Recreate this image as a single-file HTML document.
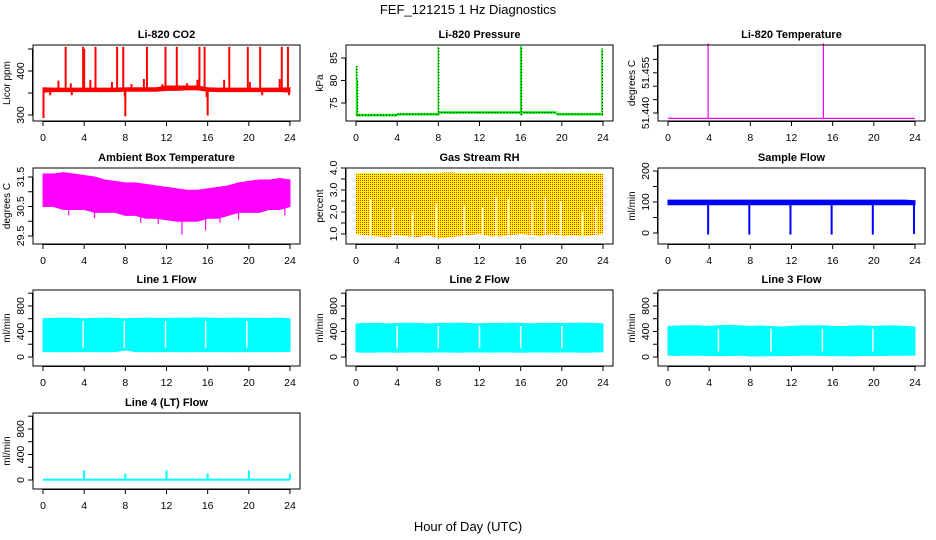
<!DOCTYPE html>
<html><head><meta charset="utf-8"><style>
html,body{margin:0;padding:0;background:#fff}
svg{display:block;font-family:"Liberation Sans",sans-serif}
</style></head><body>
<svg id="c" width="936" height="540" viewBox="0 0 936 540">
<defs><pattern id="rhpat" width="2" height="2" patternUnits="userSpaceOnUse"><rect width="2" height="2" fill="#ffff00"/><rect width="1" height="1" fill="#ff3000"/></pattern></defs>
<text x="468" y="14" text-anchor="middle" font-size="13">FEF_121215  1 Hz Diagnostics</text>
<text x="468" y="531" text-anchor="middle" font-size="13">Hour of Day (UTC)</text>
</svg>
<script>
const hours=[0,1,2,3,4,5,6,7,8,9,10,11,12,13,14,15,16,17,18,19,20,21,22,23,24];
const xTicks=[0,4,8,12,16,20,24];
// CO2
const co2Low=[352,353,353,353,353,353,353,353,354,354,354,354,356,356,357,357,354,353,353,353,353,353,353,353,352];
const co2High=[362,361,361,361,361,361,361,361,362,362,362,362,366,366,366,366,362,361,361,361,361,361,361,361,362];
const co2SpikeT=[2.2,3.9,4.0,5.1,7.2,7.8,10.1,11.9,13.0,15.2,15.7,18.1,19.9,21.1,23.2,23.8,1.5,2.7,4.6,6.7,8.6,9.8,11.6,14.0,15.0,17.6,20.1,23.0,0.05,7.95,8.0,16.0,15.9,23.9,0.7,2.8,21.3];
const co2SpikeV=[455,455,450,455,455,455,455,455,455,455,455,455,455,455,455,455,378,372,380,375,370,382,370,372,380,380,375,382,293,342,297,299,340,345,345,345,345];
// Pressure
const presT=[0,4,8,12,16,19.5,24];
const presV=[72.3,72.5,72.9,72.9,72.9,72.5,72.5];
const presSpikeT=[0.05,0.12,8.0,16.0,16.05,23.9];
const presSpikeV=[83.2,80.2,87.5,87.6,87.6,87.1];
// Li-820 temperature
const tempBase=51.438;
const tempSpikeT=[3.9,15.1];
const tempSpikeV=[51.466,51.466];
// Ambient
const ambHigh=[31.6,31.6,31.65,31.6,31.55,31.5,31.4,31.35,31.3,31.3,31.25,31.2,31.15,31.1,31.05,31.05,31.1,31.15,31.2,31.3,31.35,31.4,31.4,31.45,31.4];
const ambLow=[30.5,30.5,30.4,30.4,30.4,30.3,30.3,30.3,30.2,30.2,30.1,30.1,30.05,30.0,30.0,30.0,30.1,30.1,30.2,30.3,30.3,30.3,30.4,30.4,30.5];
const ambDipT=[13.5,15.8,9.5,11.2,17.2,23.5,2.5,5.0,19.0];
const ambDipV=[29.55,29.7,29.95,29.9,29.95,30.2,30.2,30.1,30.05];
// RH
const rhHigh=[3.75,3.78,3.76,3.77,3.75,3.78,3.76,3.77,3.78,3.8,3.77,3.76,3.78,3.77,3.76,3.78,3.77,3.75,3.77,3.78,3.76,3.78,3.77,3.76,3.75];
const rhLow=[1.0,0.95,0.9,0.85,0.95,0.9,0.85,0.95,0.8,0.85,0.9,0.95,1.0,0.9,0.9,0.95,1.0,0.95,0.9,1.0,0.9,0.95,0.9,0.95,1.0];
const rhGapT=[1.4,3.6,5.5,7.8,10.5,12.3,13.6,14.8,17.1,18.4,19.9,22.0,23.3];
const rhGapV=[2.6,2.2,2.0,2.4,2.3,2.2,2.7,2.6,2.5,2.7,2.5,2.0,2.3];
// Sample flow
const sfHigh=[106,106,106,106,106,106,106,106,106,106,106,106,106,106,106,106,106,106,106,106,106,106,106,106,104];
const sfLow=[91,91,91,91,91,91,91,91,91,91,91,91,91,91,91,91,91,91,91,91,91,91,91,91,91];
const sfDipT=[3.9,7.9,11.9,15.9,19.9,23.9];
const sfDipV=[-5,-5,-5,-5,-5,-3];
// Line flows
const l1High=[600,605,610,605,600,606,610,605,600,605,610,606,605,610,608,612,610,606,608,610,606,608,605,610,600];
const l1Low=[85,85,82,84,85,84,82,85,110,85,84,82,85,84,83,85,85,84,85,83,85,84,85,84,90];
const l1GapT=[3.9,7.9,11.9,15.8,19.8];
const l2High=[520,525,528,520,525,530,526,520,525,528,530,525,520,528,526,530,525,522,528,525,526,528,530,525,520];
const l2Low=[80,75,78,80,75,78,80,76,80,78,75,80,78,76,80,78,75,78,80,76,78,80,75,78,80];
const l2GapT=[4.0,8.0,12.0,16.0,20.0];
const l3High=[480,485,490,488,480,490,495,488,480,485,478,470,480,488,485,490,480,478,485,488,480,485,488,480,470];
const l3Low=[30,25,30,28,25,20,25,30,15,18,20,22,25,28,30,25,20,22,18,25,28,25,30,28,30];
const l3GapT=[4.9,10.0,15.0,19.9];
const l4Base=[5,20];
const l4SpikeT=[4.0,8.0,12.0,16.0,20.0,24.0];
const l4SpikeV=[150,100,150,100,150,100];

const NS="http://www.w3.org/2000/svg";
const svg=document.getElementById('c');
function mk(tag,attrs,parent){const e=document.createElementNS(NS,tag);for(const k in attrs)e.setAttribute(k,attrs[k]);(parent||svg).appendChild(e);return e;}

function panel(cfg){
  const g=mk('g',{});
  
  
  const L=cfg.L,T=cfg.T,B=T+76,R=L+267;
  const xs=h=>L+10+h*247/24;
  const ys=cfg.y;
  const t=mk('text',{x:(L+R)/2,y:T-7,'text-anchor':'middle','font-size':11,'font-weight':'bold'},g);
  t.textContent=cfg.title;
  
  
  const plot=mk('g',{},g);
  
  
  cfg.draw(plot,xs,ys);
  const box=mk('rect',{x:L,y:T,width:R-L,height:B-T,fill:'none',stroke:'#000','stroke-width':1},g);
  
  
  const xa=mk('g',{},g);
  
  
  mk('line',{x1:xs(0),x2:xs(24),y1:B+0.5,y2:B+0.5,stroke:'#000'},xa);
  xTicks.forEach(v=>{
    mk('line',{x1:xs(v),x2:xs(v),y1:B,y2:B+5,stroke:'#000'},xa);
    if(cfg.xlab){const tx=mk('text',{x:xs(v),y:B+20,'text-anchor':'middle','font-size':10.5},xa);tx.textContent=v;}
  });
  const ya=mk('g',{},g);
  
  
  const tk=cfg.yticks;
  mk('line',{x1:L-0.5,x2:L-0.5,y1:ys(tk[0]),y2:ys(tk[tk.length-1]),stroke:'#000'},ya);
  tk.forEach(v=>mk('line',{x1:L-5,x2:L,y1:ys(v),y2:ys(v),stroke:'#000'},ya));
  cfg.ylabels.forEach(v=>{
    const yy=ys(v);
    const tx=mk('text',{x:0,y:0,'text-anchor':'middle','font-size':10.5,transform:`translate(${L-9},${yy}) rotate(-90)`},ya);
    tx.textContent=cfg.fmt?cfg.fmt(v):v;
  });
  const yt=mk('text',{x:0,y:0,'text-anchor':'middle','font-size':10,transform:`translate(${L-23},${(T+B)/2}) rotate(-90)`},g);
  yt.textContent=cfg.ytitle;
  
  
}
function band(p,xs,ys,hi,lo,fill){
  let pts=hours.map((h,i)=>xs(h)+','+ys(hi[i]));
  pts=pts.concat(hours.slice().reverse().map((h,j)=>{const i=hours.length-1-j;return xs(h)+','+ys(lo[i]);}));
  return mk('polygon',{points:pts.join(' '),fill:fill,stroke:fill==='url(#rhpat)'?'none':fill,'stroke-width':1},p);
}
function vline(p,xs,ys,t,v0,v1,col,w){return mk('line',{x1:xs(t),x2:xs(t),y1:ys(v0),y2:ys(v1),stroke:col,'stroke-width':w||1.5},p);}

const C1=33,C2=346,C3=658;
panel({name:'co2',title:'Li-820 CO2',L:C1,T:45,xlab:true,y:v=>115-(v-300)*0.44,yticks:[300,350,400,450],ylabels:[300,400],ytitle:'Licor ppm',
 draw:(p,xs,ys)=>{band(p,xs,ys,co2High,co2Low,'#ff0000');co2SpikeT.forEach((t,i)=>vline(p,xs,ys,t,358,co2SpikeV[i],'#ff0000',2));}});
panel({name:'pressure',title:'Li-820 Pressure',L:C2,T:45,xlab:true,y:v=>103-(v-75)*4.5,yticks:[75,80,85],ylabels:[75,80,85],ytitle:'kPa',
 draw:(p,xs,ys)=>{let d='';presT.forEach((t,i)=>{if(i<presT.length-1){d+=`M${xs(t)},${ys(presV[i])}L${xs(presT[i+1])},${ys(presV[i])}`;}});
  mk('path',{d:d,stroke:'#00ee00','stroke-width':2.5,fill:'none'},p);
  mk('path',{d:d,stroke:'#000','stroke-width':1,'stroke-dasharray':'1,2',fill:'none'},p);
  presSpikeT.forEach((t,i)=>{vline(p,xs,ys,t,72.3,presSpikeV[i],'#00ee00',1.5);mk('line',{x1:xs(t)+0.5,x2:xs(t)+0.5,y1:ys(72.3),y2:ys(presSpikeV[i]),stroke:'#000','stroke-dasharray':'1,2'},p);});}});
panel({name:'li820-temperature',title:'Li-820 Temperature',L:C3,T:45,xlab:true,y:v=>113-(v-51.44)*2680,yticks:[51.44,51.445,51.45,51.455,51.46,51.465],ylabels:[51.44,51.455],fmt:v=>v.toFixed(3),ytitle:'degrees C',
 draw:(p,xs,ys)=>{mk('line',{x1:xs(0),x2:xs(24),y1:ys(tempBase),y2:ys(tempBase),stroke:'#ff00ff','stroke-width':1.2},p);tempSpikeT.forEach((t,i)=>vline(p,xs,ys,t,tempBase,tempSpikeV[i],'#ff00ff',1.2));}});
panel({name:'ambient-temperature',title:'Ambient Box Temperature',L:C1,T:168,xlab:true,y:v=>236-(v-29.5)*29.5,yticks:[29.5,30,30.5,31,31.5],ylabels:[29.5,30.5,31.5],fmt:v=>v.toFixed(1),ytitle:'degrees C',
 draw:(p,xs,ys)=>{band(p,xs,ys,ambHigh,ambLow,'#ff00ff');ambDipT.forEach((t,i)=>vline(p,xs,ys,t,30.5,ambDipV[i],'#ff00ff',1.2));}});
panel({name:'gas-stream-rh',title:'Gas Stream RH',L:C2,T:168,xlab:true,y:v=>234-(v-1)*22,yticks:[1,1.5,2,2.5,3,3.5,4],ylabels:[1,2,3,4],fmt:v=>v.toFixed(1),ytitle:'percent',
 draw:(p,xs,ys)=>{band(p,xs,ys,rhHigh,rhLow,'url(#rhpat)');rhGapT.forEach((t,i)=>vline(p,xs,ys,t,0.85,rhGapV[i],'#ffffff',1.5));}});
panel({name:'sample-flow',title:'Sample Flow',L:C3,T:168,xlab:true,y:v=>233-v*0.31,yticks:[0,50,100,150,200],ylabels:[0,100,200],ytitle:'ml/min',
 draw:(p,xs,ys)=>{band(p,xs,ys,sfHigh,sfLow,'#0000ff');sfDipT.forEach((t,i)=>vline(p,xs,ys,t,95,sfDipV[i],'#0000ff',2));}});
const fy3=v=>357-v*0.0638, fy4=v=>480-v*0.0638;
function flowPanel(name,title,L,T,yf,hi,lo,gaps){
 panel({name:name,title:title,L:L,T:T,xlab:true,y:yf,yticks:[0,200,400,600,800,1000],ylabels:[0,400,800],ytitle:'ml/min',
  draw:(p,xs,ys)=>{band(p,xs,ys,hi,lo,'#00ffff');gaps.forEach(t=>vline(p,xs,ys,t,lo[1]+60,hi[1]-40,'#ffffff',1.5));}});
}
flowPanel('line1-flow','Line 1 Flow',C1,290,fy3,l1High,l1Low,l1GapT);
flowPanel('line2-flow','Line 2 Flow',C2,290,fy3,l2High,l2Low,l2GapT);
flowPanel('line3-flow','Line 3 Flow',C3,290,fy3,l3High,l3Low,l3GapT);
panel({name:'line4-flow',title:'Line 4 (LT) Flow',L:C1,T:413,xlab:true,y:fy4,yticks:[0,200,400,600,800,1000],ylabels:[0,400,800],ytitle:'ml/min',
 draw:(p,xs,ys)=>{mk('rect',{x:xs(0),y:ys(l4Base[1]),width:xs(24)-xs(0),height:ys(l4Base[0])-ys(l4Base[1])+1,fill:'#00ffff'},p);l4SpikeT.forEach((t,i)=>vline(p,xs,ys,t,10,l4SpikeV[i],'#00ffff',2));}});
</script>
</body></html>
